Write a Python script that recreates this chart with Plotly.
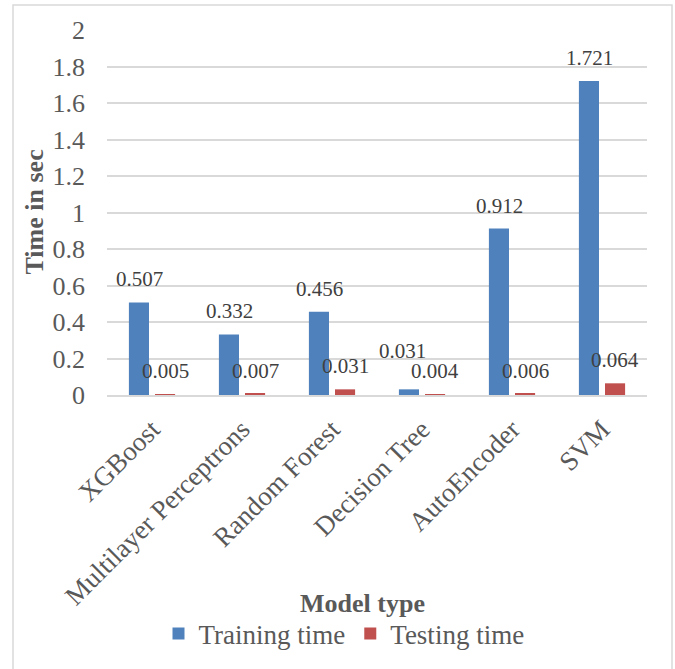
import plotly.graph_objects as go

models = ["XGBoost", "Multilayer Perceptrons", "Random Forest", "Decision Tree", "AutoEncoder", "SVM"]
training_time = [0.507, 0.332, 0.456, 0.031, 0.912, 1.721]
testing_time = [0.005, 0.007, 0.031, 0.004, 0.006, 0.064]
series_names = ["Training time", "Testing time"]
y_ticks = [0, 0.2, 0.4, 0.6, 0.8, 1, 1.2, 1.4, 1.6, 1.8, 2]
y_tick_text = ["0", "0.2", "0.4", "0.6", "0.8", "1", "1.2", "1.4", "1.6", "1.8", "2"]

BLUE = "#4F81BD"
RED = "#C0504D"
FONT = "Liberation Serif, Times New Roman, serif"

W, H = 675, 669
ML, MR, MT, MB = 107, 28, 30, 274
PW = W - ML - MR
PH = H - MT - MB

fig = go.Figure()
fig.add_trace(go.Bar(x=models, y=training_time, name=series_names[0], marker_color=BLUE,
                     marker_line_width=0))
fig.add_trace(go.Bar(x=models, y=testing_time, name=series_names[1], marker_color=RED,
                     marker_line_width=0))

# data labels
annotations = []
for i, m in enumerate(models):
    tr, te = training_time[i], testing_time[i]
    tr_dx, tr_dy = -13, 23
    if abs(tr - te) < 0.06:
        tr_dx, tr_dy = -20, 38
    annotations.append(dict(x=m, y=tr, text=f"{tr:.3f}", showarrow=False, xref="x", yref="y",
                            xshift=tr_dx, yshift=tr_dy, yanchor="middle",
                            font=dict(family=FONT, size=21, color="#404040")))
    annotations.append(dict(x=m, y=te, text=f"{te:.3f}", showarrow=False, xref="x", yref="y",
                            xshift=13, yshift=23, yanchor="middle",
                            font=dict(family=FONT, size=21, color="#404040")))

# axis titles
annotations.append(dict(x=(34 - ML) / PW, y=0.5, xref="paper", yref="paper", text="<b>Time in sec</b>",
                        textangle=-90, showarrow=False, xanchor="center", yanchor="middle",
                        font=dict(family=FONT, size=26, color="#595959")))
annotations.append(dict(x=(362 - ML) / PW, y=-(603 - (MT + PH)) / PH, xref="paper", yref="paper",
                        text="<b>Model type</b>", showarrow=False, xanchor="center", yanchor="middle",
                        font=dict(family=FONT, size=26, color="#595959")))

fig.update_layout(
    width=W, height=H,
    margin=dict(l=ML, r=MR, t=MT, b=MB, autoexpand=False),
    paper_bgcolor="white", plot_bgcolor="white",
    barmode="group", bargap=0.42, bargroupgap=0.23,
    font=dict(family=FONT, color="#595959"),
    showlegend=True,
    legend=dict(orientation="h", x=(344 - ML) / PW, xanchor="center",
                y=-(634 - (MT + PH)) / PH, yanchor="middle",
                font=dict(family=FONT, size=27, color="#595959"),
                itemwidth=30, tracegroupgap=0, bgcolor="rgba(0,0,0,0)"),
    annotations=annotations,
    shapes=[dict(type="rect", xref="paper", yref="paper",
                 x0=(13 - ML) / PW, x1=(672 - ML) / PW,
                 y0=-(700 - (MT + PH)) / PH, y1=(MT + PH - 5) / PH,
                 line=dict(color="#D9D9D9", width=1.5), fillcolor="rgba(0,0,0,0)", layer="below")],
)

fig.update_yaxes(range=[0, 2], tickvals=y_ticks, ticktext=y_tick_text, showgrid=True,
                 gridcolor="#D9D9D9", gridwidth=1.5, zeroline=False, showline=False,
                 ticks="", ticklabelstandoff=21,
                 tickfont=dict(family=FONT, size=26, color="#595959"))
fig.update_xaxes(showline=True, linecolor="#D9D9D9", linewidth=1.5, ticks="",
                 tickangle=-45, ticklabelstandoff=6,
                 tickfont=dict(family=FONT, size=27, color="#595959"))

fig.write_html("out.html", config={"displayModeBar": False},
               post_script="document.body.style.margin='0';document.body.style.overflow='hidden';")
